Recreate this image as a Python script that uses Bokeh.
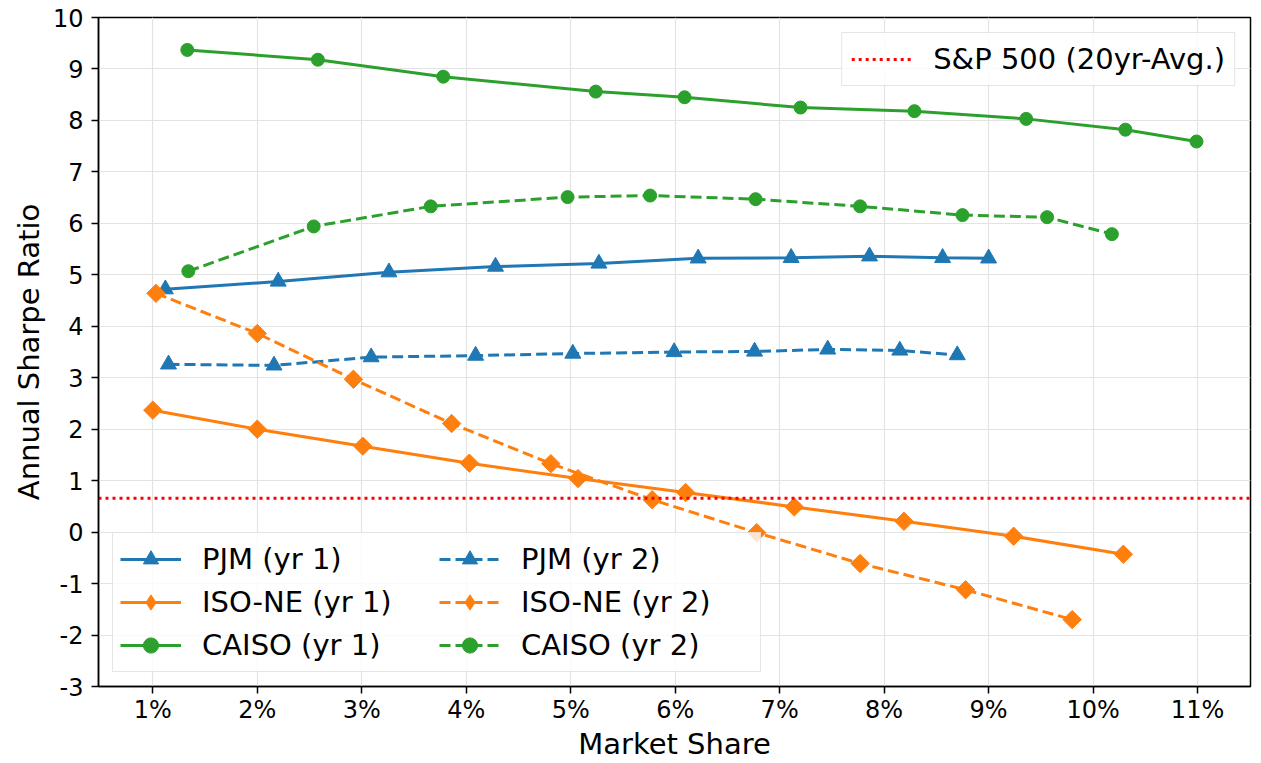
from bokeh.plotting import figure
from bokeh.models import Range1d, FixedTicker, Legend, LegendItem
from bokeh.embed import file_html
from bokeh.resources import INLINE
import numpy as np

# ---- data (market share in %, annual Sharpe ratio) ----
pjm1_x = [1.12, 2.20, 3.26, 4.28, 5.27, 6.22, 7.11, 7.86, 8.56, 9.00]
pjm1_y = [4.72, 4.87, 5.05, 5.16, 5.22, 5.32, 5.33, 5.36, 5.33, 5.32]
pjm2_x = [1.15, 2.16, 3.09, 4.09, 5.02, 5.99, 6.76, 7.46, 8.15, 8.70]
pjm2_y = [3.26, 3.24, 3.40, 3.43, 3.47, 3.50, 3.51, 3.55, 3.53, 3.44]
iso1_x = [1.00, 2.00, 3.01, 4.03, 5.07, 6.10, 7.14, 8.19, 9.24, 10.29]
iso1_y = [2.37, 2.00, 1.67, 1.34, 1.04, 0.77, 0.49, 0.21, -0.08, -0.43]
iso2_x = [1.03, 2.00, 2.92, 3.86, 4.81, 5.78, 6.78, 7.77, 8.78, 9.80]
iso2_y = [4.64, 3.86, 2.97, 2.11, 1.33, 0.63, -0.01, -0.61, -1.12, -1.70]
caiso1_x = [1.33, 2.58, 3.78, 5.24, 6.09, 7.20, 8.29, 9.36, 10.31, 10.99]
caiso1_y = [9.37, 9.18, 8.85, 8.56, 8.45, 8.25, 8.18, 8.03, 7.82, 7.59]
caiso2_x = [1.34, 2.54, 3.66, 4.97, 5.76, 6.77, 7.77, 8.75, 9.56, 10.18]
caiso2_y = [5.07, 5.94, 6.33, 6.51, 6.54, 6.47, 6.33, 6.16, 6.12, 5.79]
sp500_avg = 0.66

x_ticks = list(range(1, 12))
x_tick_labels = [f"{t}%" for t in x_ticks]
y_ticks = list(range(-3, 11))
y_tick_labels = [str(t) for t in y_ticks]

BLUE, ORANGE, GREEN = "#1f77b4", "#ff7f0e", "#2ca02c"
FONT = "DejaVu Sans"
X0, X1 = 0.48, 11.507

p = figure(width=1258, height=763, x_range=Range1d(X0, X1), y_range=Range1d(-3, 10),
           output_backend="svg", toolbar_location=None,
           min_border_left=98, min_border_right=8, min_border_top=17, min_border_bottom=70)

p.outline_line_color = "black"
p.outline_line_width = 1.5
p.background_fill_color = "white"

for ax in (p.xaxis[0], p.yaxis[0]):
    ax.axis_line_width = 1.5
    ax.axis_line_color = "black"
    ax.major_tick_line_color = "black"
    ax.major_tick_line_width = 1.5
    ax.major_tick_in = 0
    ax.major_tick_out = 7
    ax.minor_tick_line_color = None
    ax.major_label_text_font = FONT
    ax.major_label_text_font_size = "24px"
    ax.major_label_text_color = "black"
    ax.axis_label_text_font = FONT
    ax.axis_label_text_font_size = "29px"
    ax.axis_label_text_font_style = "normal"
    ax.axis_label_text_color = "black"

p.xaxis.ticker = FixedTicker(ticks=x_ticks)
p.xaxis.major_label_overrides = dict(zip(x_ticks, x_tick_labels))
p.yaxis.ticker = FixedTicker(ticks=y_ticks)
p.yaxis.major_label_overrides = dict(zip(y_ticks, y_tick_labels))
p.xaxis.axis_label = "Market Share"
p.yaxis.axis_label = "Annual Sharpe Ratio"
p.xaxis.major_label_standoff = 2
p.xaxis.axis_label_standoff = 0
p.yaxis.major_label_standoff = 8
p.yaxis.axis_label_standoff = 4

p.xgrid.ticker = FixedTicker(ticks=x_ticks)
p.ygrid.ticker = FixedTicker(ticks=y_ticks)
p.grid.grid_line_color = "#e3e3e3"
p.grid.grid_line_width = 1.2

LW = 3
DASH = "11 5"
ang = np.pi / 4
nan1 = np.array([np.nan])

def series(xs, ys, color, dash, marker):
    l = p.line(xs, ys, line_color=color, line_width=LW, line_dash=dash)
    if marker == "triangle":
        s = p.scatter(xs, ys, marker="triangle", size=16, fill_color=color, line_color=color)
        return [l, s]
    elif marker == "diamond":
        p.scatter(xs, ys, marker="square", angle=ang, size=13, fill_color=color, line_color=color)
        # legend proxy (not drawn in the plot area): diamond glyph for the legend
        s = p.scatter(nan1, nan1, marker="diamond", size=18, fill_color=color, line_color=color)
        return [l, s]
    else:
        s = p.scatter(xs, ys, marker="circle", size=13, fill_color=color, line_color=color)
        return [l, s]

r_pjm1 = series(pjm1_x, pjm1_y, BLUE, "solid", "triangle")
r_iso1 = series(iso1_x, iso1_y, ORANGE, "solid", "diamond")
r_cai1 = series(caiso1_x, caiso1_y, GREEN, "solid", "circle")
r_pjm2 = series(pjm2_x, pjm2_y, BLUE, DASH, "triangle")
r_iso2 = series(iso2_x, iso2_y, ORANGE, DASH, "diamond")
r_cai2 = series(caiso2_x, caiso2_y, GREEN, DASH, "circle")

r_sp = p.line([X0, X1], [sp500_avg, sp500_avg], line_color="red", line_width=3, line_dash="3 4")

def style_legend(lg):
    lg.label_text_font = FONT
    lg.label_text_font_size = "29px"
    lg.label_text_color = "black"
    lg.border_line_color = "#cccccc"
    lg.border_line_width = 1.2
    lg.background_fill_color = "white"
    lg.background_fill_alpha = 0.8

leg1 = Legend(items=[LegendItem(label="S&P 500 (20yr-Avg.)", renderers=[r_sp])],
              location="top_right", margin=15)
style_legend(leg1)
leg1.glyph_width = 60
leg1.glyph_height = 32
leg1.padding = 9
leg1.label_standoff = 22
p.add_layout(leg1, "center")

leg2 = Legend(items=[
    LegendItem(label="PJM (yr 1)", renderers=r_pjm1),
    LegendItem(label="ISO-NE (yr 1)", renderers=r_iso1),
    LegendItem(label="CAISO (yr 1)", renderers=r_cai1),
    LegendItem(label="PJM (yr 2)", renderers=r_pjm2),
    LegendItem(label="ISO-NE (yr 2)", renderers=r_iso2),
    LegendItem(label="CAISO (yr 2)", renderers=r_cai2),
], location="bottom_left", margin=14, orientation="vertical", nrows=3)
style_legend(leg2)
leg2.glyph_width = 61
leg2.glyph_height = 38
leg2.padding = 7
leg2.spacing = 5
leg2.label_standoff = 21
leg2.label_width = 232
p.add_layout(leg2, "center")

open("out.html", "w").write(file_html(p, INLINE))
